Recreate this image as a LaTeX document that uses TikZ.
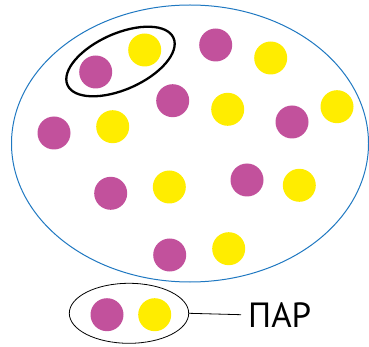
\documentclass[tikz,border=0pt]{standalone}
\usepackage{fontspec}
\usetikzlibrary{shapes.geometric}
\newfontfamily\parfont{PT Sans}
\definecolor{mag}{HTML}{C2519C}
\definecolor{yel}{HTML}{FFED00}
\definecolor{oval}{HTML}{1F78C1}
\begin{document}
\begin{tikzpicture}[x=1pt,y=-1pt,
  dotm/.style={circle,fill=mag,inner sep=0pt,minimum size=33pt},
  doty/.style={circle,fill=yel,inner sep=0pt,minimum size=33pt}]
\useasboundingbox (0,0) rectangle (369,347);
\draw[oval,line width=1pt] (190,143.5) ellipse [x radius=178.5,y radius=138.5];
% dots
\node[dotm] (m1) at (95.7,72) {};
\node[dotm] (m2) at (215.7,45) {};
\node[dotm] (m3) at (172.7,100.7) {};
\node[dotm] (m4) at (54,133) {};
\node[dotm] (m5) at (292,122) {};
\node[dotm] (m6) at (110.7,193.3) {};
\node[dotm] (m7) at (247,180) {};
\node[dotm] (m8) at (169.7,255) {};
\node[doty] (y1) at (144.7,50) {};
\node[doty] (y2) at (270.7,58) {};
\node[doty] (y3) at (227.7,109.3) {};
\node[doty] (y4) at (337,106.7) {};
\node[doty] (y5) at (112.7,126.7) {};
\node[doty] (y6) at (169.3,187) {};
\node[doty] (y7) at (299.3,185.3) {};
\node[doty] (y8) at (228.7,248.7) {};
% hand-drawn pair ring
\draw[line width=2.3pt,black] (120.5,61.5) ellipse [x radius=58,y radius=28,rotate=24];
% legend
\node[draw,ellipse,line width=0.8pt,inner sep=0pt,minimum width=119.4pt,minimum height=60pt] (leg) at (129,313.3) {};
\node[dotm] (lm) at (107,314.7) {};
\node[doty] (ly) at (154.7,314.7) {};
\node[anchor=west,inner sep=0pt,font=\parfont\fontsize{35}{40}\selectfont] (par) at (248,314.7) {ПАР};
\draw[line width=0.8pt] (leg.east) -- ([xshift=-7pt]par.west);
\end{tikzpicture}
\end{document}
